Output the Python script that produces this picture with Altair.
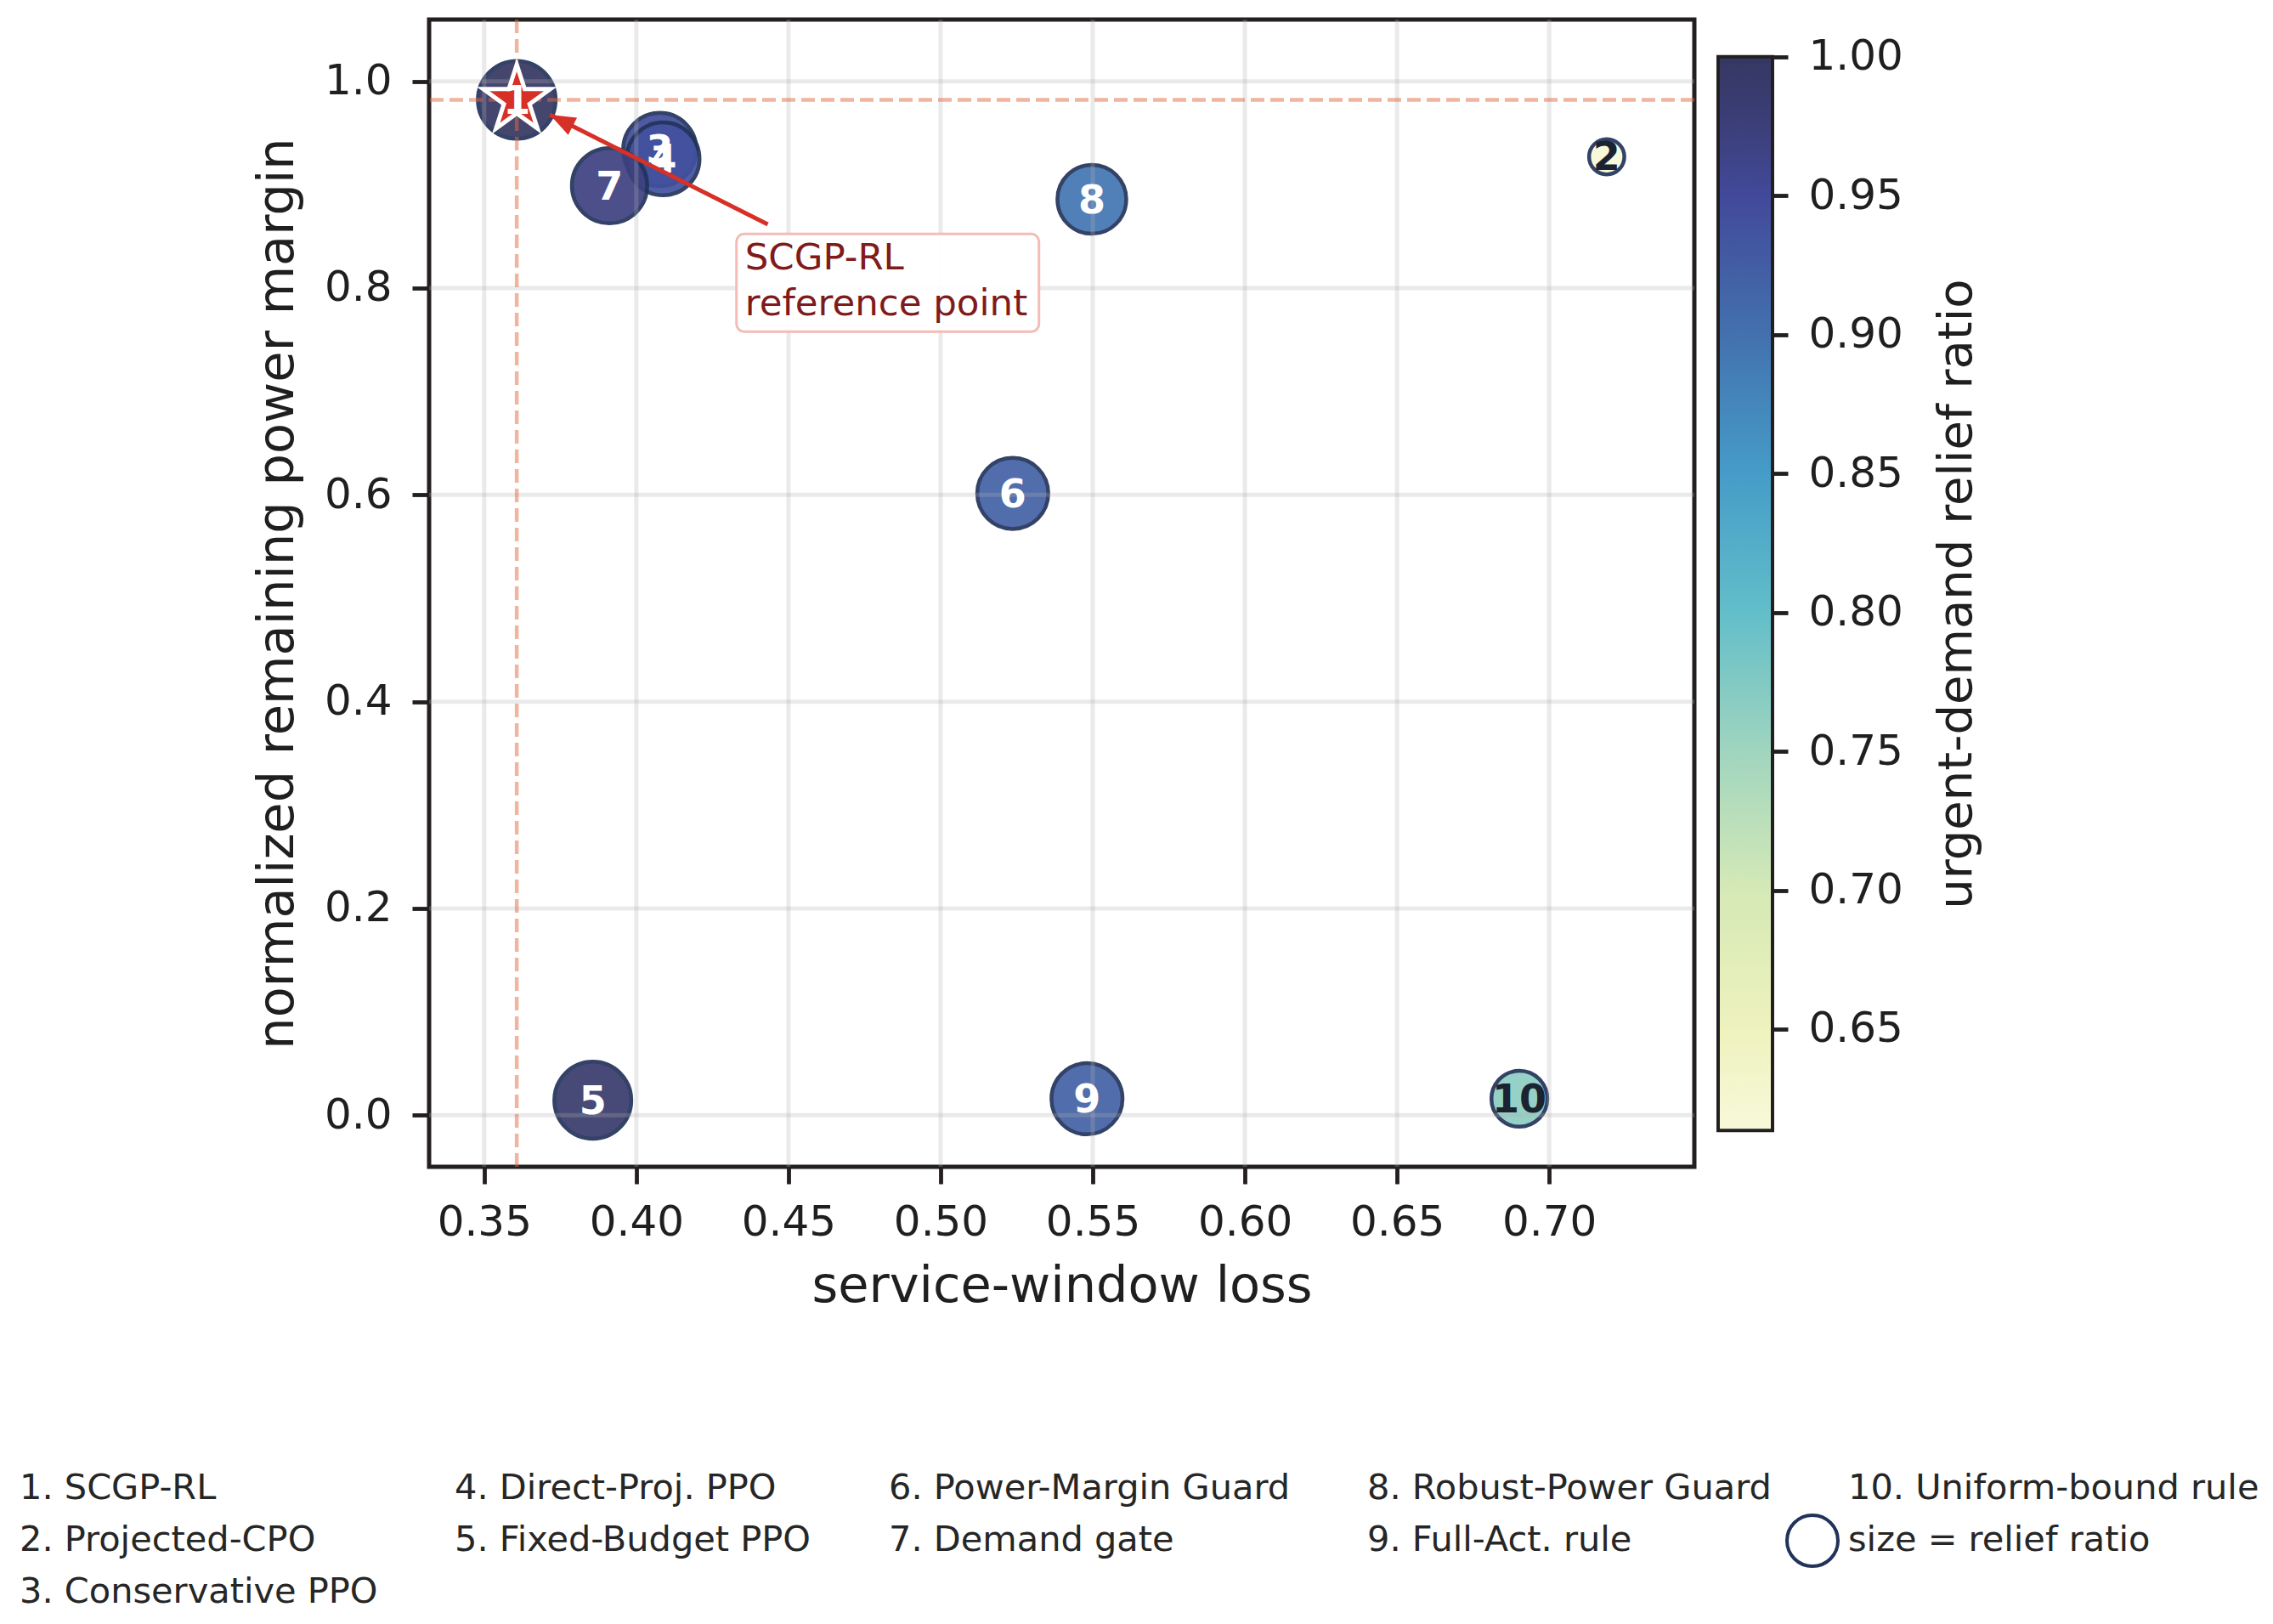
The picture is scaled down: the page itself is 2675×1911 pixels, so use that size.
import altair as alt
import pandas as pd

# ---------------- data ----------------
method_ids = [1, 2, 3, 4, 5, 6, 7, 8, 9, 10]
method_names = ["SCGP-RL", "Projected-CPO", "Conservative PPO", "Direct-Proj. PPO",
                "Fixed-Budget PPO", "Power-Margin Guard", "Demand gate",
                "Robust-Power Guard", "Full-Act. rule", "Uniform-bound rule"]
service_window_loss = [0.3607, 0.7189, 0.4077, 0.4088, 0.3857, 0.5237, 0.3912, 0.5497, 0.5481, 0.6902]
power_margin = [0.982, 0.927, 0.934, 0.925, 0.0145, 0.6014, 0.899, 0.8858, 0.0159, 0.0159]
relief_ratio = [1.0, 0.6135, 0.945, 0.94, 0.99, 0.92, 0.97, 0.895, 0.92, 0.765]

x_ticks = [0.35, 0.40, 0.45, 0.50, 0.55, 0.60, 0.65, 0.70]
y_ticks = [0.0, 0.2, 0.4, 0.6, 0.8, 1.0]
cbar_ticks = [0.65, 0.70, 0.75, 0.80, 0.85, 0.90, 0.95, 1.00]

cmap_values = [0.6135, 0.65, 0.70, 0.75, 0.80, 0.85, 0.90, 0.95, 0.975, 1.0]
cmap_colors = ["#f8f9d9", "#eef2bd", "#d5e9b6", "#a0d5bf", "#62bec9",
               "#459cc8", "#4371ae", "#42499a", "#3c3f79", "#353762"]

annotation_text = "SCGP-RL\nreference point"
annotation_anchor = [0.4357, 0.8178]
arrow_tail = [0.4432, 0.8616]
arrow_tip = [0.3716, 0.9676]

x_domain = [0.3319, 0.7477]
y_domain = [-0.0499, 1.0597]

legend_extra = "size = relief ratio"
rows_per_col = [3, 2, 2, 2, 2]

# ---------------- tables ----------------
df = pd.DataFrame({
    "id": method_ids,
    "label": [str(i) for i in method_ids],
    "loss": service_window_loss,
    "margin": power_margin,
    "relief": relief_ratio,
})
vmin, vmax = min(relief_ratio), max(relief_ratio)

ann_df = pd.DataFrame({
    "ax": [annotation_anchor[0]], "ay": [annotation_anchor[1]],
    "tx": [arrow_tail[0]], "ty": [arrow_tail[1]],
    "hx": [arrow_tip[0]], "hy": [arrow_tip[1]],
    "txt": [annotation_text],
})

leg_labels = [f"{i}. {n}" for i, n in zip(method_ids, method_names)] + [legend_extra]
cols, rows = [], []
for c, n in enumerate(rows_per_col):
    for r in range(n):
        cols.append(c)
        rows.append(r)
leg_df = pd.DataFrame({
    "label": leg_labels, "col": cols, "row": rows,
    "kind": ["method"] * len(method_ids) + ["size"],
})

# ---------------- scales / axes ----------------
FONT = "DejaVu Sans"
INK = "#1f1f1f"
xscale = alt.Scale(domain=x_domain, nice=False, zero=False)
yscale = alt.Scale(domain=y_domain, nice=False, zero=False)
xaxis = alt.Axis(title="service-window loss", values=x_ticks, format=".2f",
                 tickSize=20, labelPadding=20, titlePadding=21)
yaxis = alt.Axis(title="normalized remaining power margin", values=y_ticks, format=".1f",
                 tickSize=20, labelPadding=24, titlePadding=25)


def X(f):
    return alt.X(f"{f}:Q", scale=xscale, axis=xaxis)


def Y(f):
    return alt.Y(f"{f}:Q", scale=yscale, axis=yaxis)


cscale = alt.Scale(domain=cmap_values, range=cmap_colors, interpolate="rgb")
sscale = alt.Scale(domain=[vmin, vmax], range=[1722, 8372], zero=False)

STAR = ("M0,-1L0.2245,-0.309L0.9511,-0.309L0.3633,0.118L0.5878,0.809L0,0.382"
        "L-0.5878,0.809L-0.3633,0.118L-0.9511,-0.309L-0.2245,-0.309Z")
HEAD = "M0,0L-0.38,1L0.38,1Z"

base = alt.Chart(df)
best = base.transform_filter("datum.id == 1")

points = base.mark_circle(stroke="#22335a", strokeWidth=4.5, opacity=0.92).encode(
    x=X("loss"), y=Y("margin"),
    fill=alt.Fill("relief:Q", scale=cscale, legend=None),
    size=alt.Size("relief:Q", scale=sscale, legend=None),
)

grid_x = alt.Chart(pd.DataFrame({"t": x_ticks})).mark_rule(
    color="#b0b0b0", opacity=0.27, strokeWidth=5).encode(x=X("t"))
grid_y = alt.Chart(pd.DataFrame({"t": y_ticks})).mark_rule(
    color="#b0b0b0", opacity=0.27, strokeWidth=5).encode(y=Y("t"))

vline = best.mark_rule(color="#e4693f", opacity=0.5, strokeWidth=4.5,
                       strokeDash=[16, 7]).encode(x=X("loss"))
hline = best.mark_rule(color="#e4693f", opacity=0.5, strokeWidth=4.5,
                       strokeDash=[16, 7]).encode(y=Y("margin"))

star = best.mark_point(shape=STAR, filled=True, fill="#d73027", stroke="white",
                       strokeWidth=5, size=6900, opacity=1).encode(x=X("loss"), y=Y("margin"))

labels = base.mark_text(font=FONT, fontWeight="bold", fontSize=46, align="center",
                        baseline="middle", dy=2).encode(
    x=X("loss"), y=Y("margin"), text="label:N",
    color=alt.condition("datum.relief < 0.8", alt.value("#1b2330"), alt.value("#ffffff")),
)

ann = alt.Chart(ann_df)
arrow = ann.mark_rule(color="#d73027", strokeWidth=5).encode(
    x=X("tx"), y=Y("ty"), x2="hx:Q", y2="hy:Q")
head = ann.mark_point(shape=HEAD, filled=True, fill="#d73027", size=3600, angle=297,
                      opacity=1, strokeWidth=0).encode(x=X("hx"), y=Y("hy"))
box = ann.mark_rect(fill="white", fillOpacity=0.92, stroke="#f4bcb6", strokeWidth=3,
                    cornerRadius=9, xOffset=-10, x2Offset=346, yOffset=-42,
                    y2Offset=73).encode(x=X("ax"), x2="ax:Q", y=Y("ay"), y2="ay:Q")
box_text = ann.mark_text(font=FONT, fontSize=43.5, align="left", baseline="alphabetic",
                         color="#801b1b", lineBreak="\n", lineHeight=54).encode(
    x=X("ax"), y=Y("ay"), text="txt:N")

core = alt.layer(points, grid_x, grid_y, vline, hline, star, labels,
                 arrow, head, box, box_text)

# bottom legend (column-major, like the reference)
leg_x = alt.X("col:Q", axis=None,
              scale=alt.Scale(domain=[0, 1, 2, 3, 4], range=[-482, 30, 541, 1104, 1670],
                              nice=False, zero=False))
leg_y = alt.Y("row:Q", axis=None,
              scale=alt.Scale(domain=[0, 1, 2], range=[1741, 1802, 1863],
                              nice=False, zero=False))
leg_base = alt.Chart(leg_df)
leg_text = leg_base.mark_text(font=FONT, fontSize=41.5, align="left",
                              baseline="alphabetic", color="#262626").encode(
    x=leg_x, y=leg_y, text="label:N")
leg_circle = leg_base.transform_filter("datum.kind == 'size'").mark_point(
    shape="circle", filled=False, size=3600, stroke="#22335a", strokeWidth=4,
    opacity=1, xOffset=-42, yOffset=-12).encode(x=leg_x, y=leg_y)
legend_layer = alt.layer(leg_text, leg_circle)

main = alt.layer(core, legend_layer).resolve_scale(
    x="independent", y="independent").properties(width=1489, height=1350)

# colorbar
vrange = vmax - vmin
stops = [alt.GradientStop(offset=max(0.0, min(1.0, (v - vmin) / vrange)), color=c)
         for v, c in zip(cmap_values, cmap_colors)]
cb_df = pd.DataFrame({"lo": [vmin], "hi": [vmax]})
cbar = alt.Chart(cb_df).mark_rect(
    fill=alt.LinearGradient(gradient="linear", stops=stops, x1=0, x2=0, y1=1, y2=0),
    stroke="#231f20", strokeWidth=4).encode(
    x=alt.value(0), x2=alt.value("width"),
    y=alt.Y("lo:Q", scale=alt.Scale(domain=[vmin, vmax], range=[1307.3, 43.8],
                                    nice=False, zero=False),
            axis=alt.Axis(orient="right", values=cbar_ticks, format=".2f",
                          title="urgent-demand relief ratio", tickSize=18,
                          labelPadding=24, titleAngle=270, titleBaseline="top",
                          titlePadding=36, titleFontSize=56)),
    y2="hi:Q",
).properties(width=64, height=1350,
             view=alt.ViewBackground(strokeWidth=0, strokeOpacity=0))

chart = alt.hconcat(main, cbar, spacing=28, bounds="flush").properties(
    padding={"left": 12, "top": 10, "right": 5, "bottom": 5}
).configure(font=FONT).configure_view(
    stroke="#231f20", strokeWidth=5
).configure_axis(
    labelFont=FONT, titleFont=FONT, labelFontSize=50, titleFontSize=59,
    labelColor=INK, titleColor=INK, titleFontWeight="normal",
    tickColor="#231f20", tickWidth=4.8, domain=False, grid=False,
    labelFlush=False, labelOverlap=False,
)

chart.save("out.html", embed_options={"renderer": "svg", "actions": False})
